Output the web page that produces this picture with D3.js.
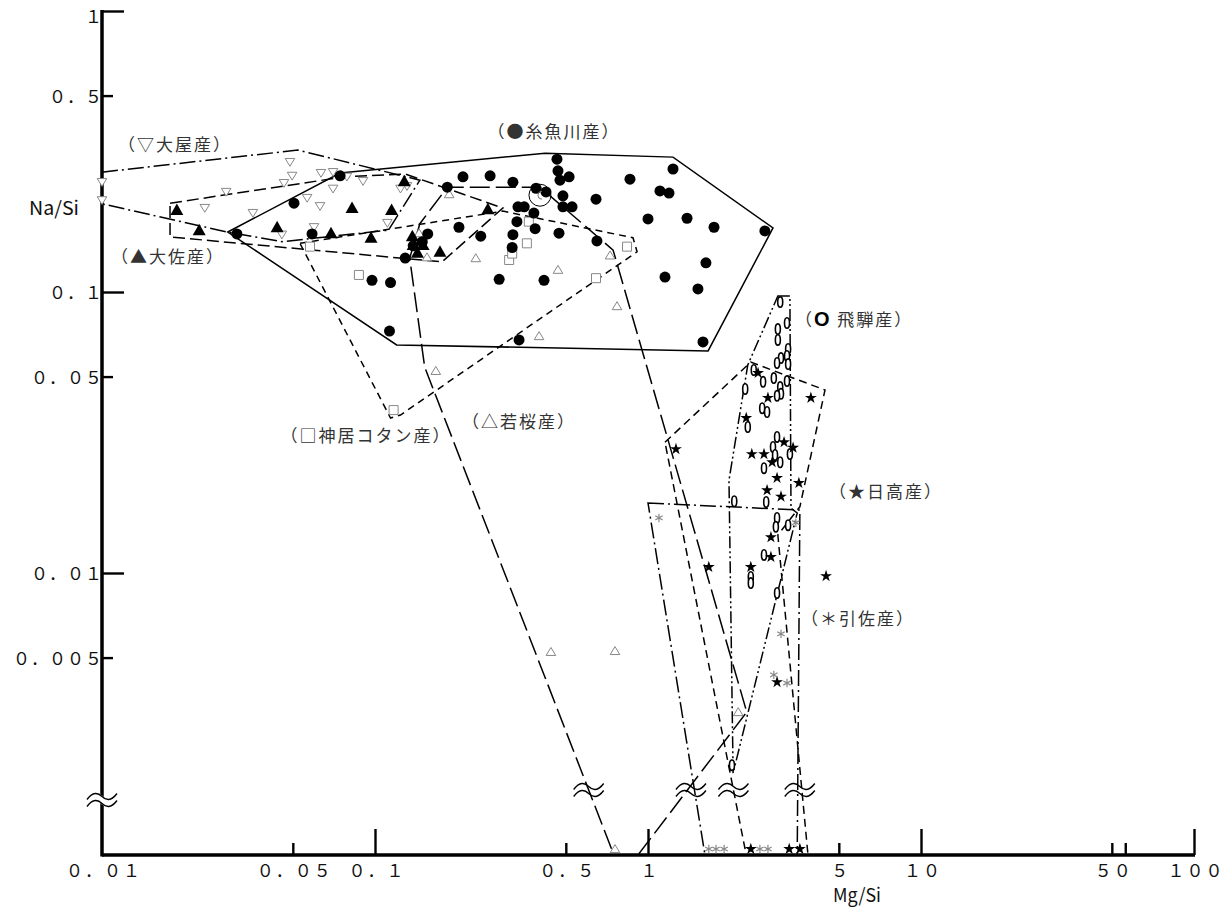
<!DOCTYPE html>
<html lang="ja"><head><meta charset="utf-8">
<script src="https://cdn.jsdelivr.net/npm/d3@7/dist/d3.min.js"></script>
<style>html,body{margin:0;padding:0;background:#fff;}svg{display:block;}</style>
</head><body>
<svg id="chart" width="1224" height="909"></svg>
<script>
// ================= DATA =================
// axis ticks & labels
const xMajorTicks = [0.1, 1, 10, 100];
const xMinorTicks = [0.05, 0.5, 5, 50, 56];
const xLabelValues = [0.01, 0.05, 0.1, 0.5, 1, 5, 10, 50, 100];
const xLabelTexts = ["０．０１","０．０５","０．１","０．５","１","５","１０","５０","１００"];
const yMajorTicks = [1, 0.1, 0.01];
const yMinorTicks = [0.5, 0.05, 0.005];
const yLabelValues = [1, 0.5, 0.1, 0.05, 0.01, 0.005];
const yLabelTexts = ["１","０．５","０．１","０．０５","０．０１","０．００５"];
const xTitle = "Mg/Si";
const yTitle = "Na/Si";
// [Mg/Si, Na/Si]; Na/Si = 0 means below detection (drawn on the bottom axis)

// ▽ 大屋産
const ooyaPts = [[0.01,0.246],[0.01,0.212],[0.0488,0.290],[0.0497,0.259],[0.0464,0.244],[0.0285,0.227],[0.0238,0.199],[0.0357,0.191],[0.0564,0.216],[0.0629,0.202],[0.0634,0.265],[0.0702,0.267],[0.0702,0.233],[0.0456,0.160],[0.0598,0.170],[0.0789,0.257],[0.0904,0.248],[0.111,0.176],[0.124,0.233],[0.131,0.238]];
// ▲ 大佐産
const daisaPts = [[0.0188,0.196],[0.0227,0.166],[0.0438,0.170],[0.0690,0.162],[0.0824,0.199],[0.115,0.196],[0.128,0.248],[0.0967,0.156],[0.137,0.158],[0.138,0.147],[0.150,0.147],[0.143,0.138],[0.173,0.139],[0.259,0.197]];
// ● 糸魚川産
const itoigawaPts = [[0.0745,0.259],[0.0505,0.207],[0.0312,0.161],[0.0588,0.161],[0.210,0.257],[0.264,0.259],[0.184,0.236],[0.320,0.246],[0.464,0.297],[0.468,0.270],[0.476,0.250],[0.514,0.257],[0.389,0.234],[0.423,0.227],[0.488,0.220],[0.488,0.201],[0.527,0.201],[0.334,0.201],[0.352,0.201],[0.382,0.191],[0.331,0.178],[0.386,0.168],[0.320,0.160],[0.318,0.144],[0.472,0.162],[0.203,0.170],[0.244,0.158],[0.156,0.161],[0.149,0.151],[0.138,0.146],[0.129,0.132],[0.0975,0.110],[0.114,0.108],[0.285,0.111],[0.416,0.110],[0.113,0.0726],[0.337,0.0675],[0.859,0.252],[1.235,0.274],[1.106,0.229],[1.194,0.225],[0.645,0.214],[1.0,0.182],[1.39,0.183],[1.745,0.170],[2.68,0.165],[0.650,0.152],[1.63,0.127],[1.154,0.113],[1.524,0.1025],[1.59,0.0664]];
const circledPts = [[0.402,0.221]];
// □ 神居コタン産
const kamuiPts = [[0.0578,0.145],[0.0873,0.115],[0.366,0.178],[0.360,0.149],[0.310,0.130],[0.318,0.137],[0.838,0.145],[0.645,0.112],[0.117,0.0380]];
// △ 若桜産
const wakasaPts = [[0.187,0.223],[0.145,0.162],[0.155,0.133],[0.234,0.132],[0.468,0.120],[0.399,0.0697],[0.726,0.135],[0.770,0.0891],[0.167,0.0524],[0.441,0.00524],[0.757,0.00528],[2.14,0.00320],[0.757,0]];
// O 飛騨産
const hidaPts = [[3.05,0.0921],[3.23,0.0776],[2.99,0.0738],[2.99,0.0675],[3.26,0.0627],[3.07,0.0582],[3.23,0.0592],[2.97,0.0559],[3.26,0.0554],[2.44,0.0528],[2.64,0.0479],[2.89,0.0494],[3.23,0.0482],[3.05,0.0459],[3.07,0.0434],[2.97,0.0427],[2.27,0.0452],[2.62,0.0386],[2.73,0.0374],[2.32,0.0331],[2.97,0.0305],[2.87,0.0281],[3.31,0.0265],[2.92,0.0263],[3.05,0.0248],[2.66,0.0236],[2.07,0.0180],[2.71,0.0179],[2.97,0.0157],[2.94,0.0146],[3.26,0.0148],[2.66,0.0116],[2.38,0.00968],[2.38,0.00921],[2.97,0.00849],[2.03,0.00207]];
// ★ 日高産
const hidakaPts = [[2.53,0.0515],[2.75,0.0420],[3.95,0.0420],[2.29,0.0356],[3.15,0.0292],[3.40,0.0279],[2.40,0.0265],[2.66,0.0265],[2.85,0.0248],[2.97,0.0218],[3.57,0.0209],[2.73,0.0197],[3.07,0.0187],[2.82,0.0134],[2.82,0.0114],[2.38,0.0105],[1.67,0.0105],[4.49,0.00975],[2.97,0.00409],[1.266,0.0276],[2.38,0],[3.29,0],[3.60,0]];
// ＊ 引佐産
const inasaPts = [[1.097,0.0157],[3.48,0.0151],[3.07,0.00607],[2.89,0.00434],[3.23,0.00406],[1.67,0],[1.775,0],[1.90,0],[2.57,0],[2.75,0]];

// envelopes (vertices in data units)
const ooyaEnv = [[0.01,0.267],[0.0522,0.320],[0.146,0.250],[0.112,0.166],[0.0456,0.151],[0.0287,0.1635],[0.01,0.206]];
const daisaEnv = [[0.01775,0.207],[0.0776,0.257],[0.129,0.263],[0.294,0.199],[0.176,0.128],[0.01775,0.157]];
const itoigawaEnv = [[0.0289,0.1635],[0.0745,0.265],[0.420,0.312],[1.235,0.302],[2.87,0.169],[1.66,0.0617],[0.120,0.0648]];
const wakasaEnv = [[0.134,0.132],[0.146,0.175],[0.184,0.236],[0.402,0.236],[0.745,0.141],[2.30,0.00320],[0.919,0],[0.750,0],[0.152,0.0541]];
const kamuiEnv = [[0.0531,0.149],[0.294,0.194],[0.881,0.156],[0.912,0.139],[0.124,0.0365],[0.114,0.0356]];
const hidaEnv = [[2.99,0.0968],[3.31,0.0968],[3.34,0.0170],[3.52,0.01635],[2.05,0.00194],[1.98,0.0214],[2.32,0.0550]];
const hidakaEnv = [[1.154,0.0292],[2.38,0.0563],[4.45,0.0448],[3.60,0.0172],[2.99,0.01365],[3.855,0],[2.29,0]];
const inasaEnv = [[1.0,0.01775],[3.60,0.01675],[3.52,0],[1.617,0]];

// group labels: text and anchor [Mg/Si, Na/Si]
const groupLabelTexts = ["（▽大屋産）","（▲大佐産）","（●糸魚川産）","（O 飛騨産）","（□神居コタン産）","（△若桜産）","（★日高産）","（＊引佐産）"];
const groupLabelAnchors = [[0.0185,0.334],[0.01745,0.133],[0.453,0.371],[5.69,0.0794],[0.0927,0.0307],[0.337,0.0344],[7.45,0.0194],[5.88,0.00686]];

// ================= CHART =================
const svg = d3.select("#chart");
const FONT = "'Noto Sans CJK JP','Noto Sans',sans-serif";
const x = d3.scaleLog().domain([0.01, 100]).range([102, 1194]);
const yLog = d3.scaleLog().domain([1, 0.001]).range([11, 854]);
const yBottom = 855;
const y = v => v > 0 ? yLog(v) : yBottom;
const yMark = v => v > 0 ? yLog(v) : yBottom - 6;

// axes (ticks via d3.axis)
const gx1 = svg.append("g").attr("transform", `translate(0,${yBottom})`)
  .call(d3.axisTop(x).tickValues(xMajorTicks).tickSize(26).tickFormat(""));
const gx2 = svg.append("g").attr("transform", `translate(0,${yBottom})`)
  .call(d3.axisTop(x).tickValues(xMinorTicks).tickSize(12).tickFormat(""));
const gy1 = svg.append("g").attr("transform", `translate(${x(0.01)},0)`)
  .call(d3.axisRight(yLog).tickValues(yMajorTicks).tickSize(22).tickFormat(""));
const gy2 = svg.append("g").attr("transform", `translate(${x(0.01)},0)`)
  .call(d3.axisRight(yLog).tickValues(yMinorTicks).tickSize(11).tickFormat(""));
[gx1, gx2, gy1, gy2].forEach(g => {
  g.select(".domain").remove();
  g.selectAll(".tick line").attr("stroke", "#000").attr("stroke-width", 2.4);
});
svg.append("line").attr("x1", x(0.01)).attr("x2", x(100) + 1)
  .attr("y1", yBottom).attr("y2", yBottom).attr("stroke", "#000").attr("stroke-width", 3.5);
svg.append("line").attr("x1", x(0.01)).attr("x2", x(0.01))
  .attr("y1", yLog(1) - 1).attr("y2", yBottom + 1.5).attr("stroke", "#000").attr("stroke-width", 3.5);

// axis labels
svg.append("g").selectAll("text").data(xLabelValues).join("text")
  .attr("x", d => x(d) + 2).attr("y", 877).attr("text-anchor", "middle")
  .attr("font-family", FONT).attr("font-size", 17).attr("letter-spacing", 2).attr("fill", "#111")
  .text((d, i) => xLabelTexts[i]);
svg.append("g").selectAll("text").data(yLabelValues).join("text")
  .attr("x", 103).attr("y", d => yLog(d) + (d === 1 ? 12 : 7)).attr("text-anchor", "end")
  .attr("font-family", FONT).attr("font-size", 17).attr("letter-spacing", 1).attr("fill", "#111")
  .text((d, i) => yLabelTexts[i]);
svg.append("text").attr("x", 29).attr("y", 215).attr("font-family", FONT).attr("font-size", 19)
  .attr("textLength", 50).attr("lengthAdjust", "spacingAndGlyphs").attr("fill", "#111").text(yTitle);
svg.append("text").attr("x", 833).attr("y", 902).attr("font-family", FONT).attr("font-size", 19)
  .attr("textLength", 48).attr("lengthAdjust", "spacingAndGlyphs").attr("fill", "#111").text(xTitle);

// envelopes
const envelopes = [
  {pts: ooyaEnv, dash: "16,4,2,4"},
  {pts: daisaEnv, dash: "12,5"},
  {pts: itoigawaEnv, dash: null},
  {pts: wakasaEnv, dash: "20,6"},
  {pts: kamuiEnv, dash: "7,5"},
  {pts: hidaEnv, dash: "12,3,2,3,2,3"},
  {pts: hidakaEnv, dash: "8,5"},
  {pts: inasaEnv, dash: "16,4,2,4"}
];
const line = d3.line().x(d => x(d[0])).y(d => y(d[1])).curve(d3.curveLinearClosed);
svg.append("g").selectAll("path").data(envelopes).join("path")
  .attr("d", d => line(d.pts)).attr("fill", "none").attr("stroke", "#000")
  .attr("stroke-width", 1.5).attr("stroke-dasharray", d => d.dash);

// break marks: where envelope edges cross into the below-detection band
const breakY = 790;
let crossings = [];
envelopes.forEach(e => {
  const p = e.pts;
  for (let i = 0; i < p.length; i++) {
    const a = p[i], b = p[(i + 1) % p.length];
    if ((a[1] === 0) !== (b[1] === 0)) {
      const ax = x(a[0]), ay = y(a[1]), bx = x(b[0]), by = y(b[1]);
      const t = (breakY - ay) / (by - ay);
      if (t >= 0 && t <= 1) crossings.push(ax + t * (bx - ax));
    }
  }
});
crossings.sort((a, b) => a - b);
const clusters = [];
crossings.forEach(cx => {
  const last = clusters[clusters.length - 1];
  if (last && cx - last[last.length - 1] < 15) last.push(cx); else clusters.push([cx]);
});
function wave(cx, cy) {
  return `M${cx-15},${cy+3} C${cx-9},${cy-5} ${cx-4},${cy-4} ${cx},${cy} S${cx+9},${cy+5} ${cx+15},${cy-3}`;
}
function drawBreak(cx, cy, mask) {
  if (mask) svg.append("path").attr("d", wave(cx, cy)).attr("fill", "none").attr("stroke", "#fff").attr("stroke-width", 7);
  [-3.5, 3.5].forEach(dy => svg.append("path").attr("d", wave(cx, cy + dy))
    .attr("fill", "none").attr("stroke", "#000").attr("stroke-width", 1.4));
}
clusters.forEach(c => drawBreak(d3.mean(c), breakY, false));
drawBreak(x(0.01), 800, true);

// markers
const markerDefs = [
  {pts: ooyaPts, d: "M-4.8,-3.6L4.8,-3.6L0,4.2Z", fill: "#fff", stroke: "#888", sw: 1},
  {pts: kamuiPts, d: "M-4.5,-4.5H4.5V4.5H-4.5Z", fill: "#fff", stroke: "#888", sw: 1},
  {pts: wakasaPts, d: "M-4.8,3.6L4.8,3.6L0,-4.4Z", fill: "#fff", stroke: "#888", sw: 1},
  {pts: daisaPts, d: "M-6.5,5L6.5,5L0,-6.5Z", fill: "#000", stroke: "none", sw: 0},
  {pts: itoigawaPts, d: d3.symbol(d3.symbolCircle, 95)(), fill: "#000", stroke: "none", sw: 0},
  {pts: hidaPts, d: "M0,-5.2A2.5,5.2 0 1 1 0,5.2A2.5,5.2 0 1 1 0,-5.2Z", fill: "#fff", stroke: "#000", sw: 1.6},
  {pts: hidakaPts, d: d3.symbol(d3.symbolStar, 44)(), fill: "#000", stroke: "none", sw: 0},
  {pts: inasaPts, d: "M0,-4.2V4.2M-3.7,-2.1L3.7,2.1M-3.7,2.1L3.7,-2.1", fill: "none", stroke: "#888", sw: 1.2}
];
markerDefs.forEach(m => {
  svg.append("g").selectAll("path").data(m.pts).join("path")
    .attr("transform", d => `translate(${x(d[0])},${yMark(d[1])})`)
    .attr("d", m.d).attr("fill", m.fill).attr("stroke", m.stroke).attr("stroke-width", m.sw);
});
// circled sample
const gc = svg.append("g").selectAll("g").data(circledPts).join("g")
  .attr("transform", d => `translate(${x(d[0])},${yLog(d[1])})`);
gc.append("circle").attr("r", 11).attr("fill", "none").attr("stroke", "#000").attr("stroke-width", 1);
gc.append("path").attr("d", "M2,-4A4,4 0 1 0 2,4").attr("fill", "none").attr("stroke", "#777").attr("stroke-width", 1);

// group labels
svg.append("g").selectAll("text").data(groupLabelTexts).join("text")
  .attr("x", (d, i) => x(groupLabelAnchors[i][0])).attr("y", (d, i) => yLog(groupLabelAnchors[i][1]) + 6)
  .attr("text-anchor", "middle").attr("font-family", FONT).attr("font-size", 17).attr("letter-spacing", 2).attr("fill", "#333")
  .each(function(d) {
    const t = d3.select(this);
    if (d.includes("O ")) {
      t.append("tspan").text("（");
      t.append("tspan").attr("font-family", "'Liberation Sans',Arial,sans-serif").attr("font-weight", "bold").attr("font-size", 20).attr("fill", "#000").text("O");
      t.append("tspan").text(" 飛騨産）");
    } else t.text(d);
  });
</script>
</body></html>
